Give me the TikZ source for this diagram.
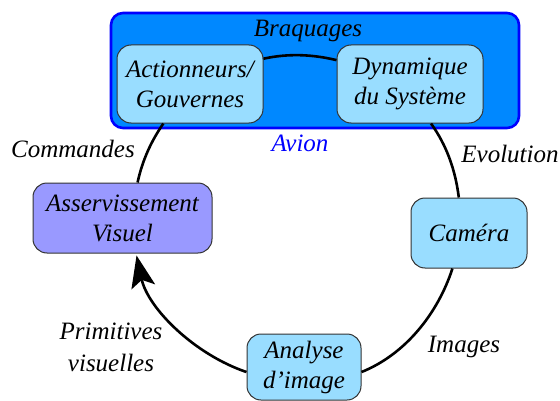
\documentclass[tikz,border=0pt]{standalone}
\usepackage{fontspec}
\setmainfont{Liberation Serif}
\usetikzlibrary{arrows.meta}
\definecolor{avionfill}{RGB}{0,136,255}
\definecolor{avionedge}{RGB}{0,0,255}
\definecolor{lightbox}{RGB}{153,221,255}
\definecolor{servobox}{RGB}{153,153,255}
\begin{document}
\begin{tikzpicture}[x=1pt,y=1pt,
  every node/.style={font=\fontsize{25}{30}\selectfont\itshape},
  blockbox/.style={draw=black!80, line width=1pt, rounded corners=14pt, align=center, inner sep=0pt},
  lightblock/.style={blockbox, fill=lightbox},
  loopline/.style={line width=2.6pt, looseness=0.88},
  lbl/.style={align=center, inner sep=0pt}]
\useasboundingbox (0,0) rectangle (560,400);
\node[draw=avionedge, fill=avionfill, line width=2.6pt, rounded corners=12pt,
      minimum width=408pt, minimum height=115pt, inner sep=0pt] (avion) at (315,329.5) {};
\node[lbl, anchor=base] (braq) at (308,363) {Braquages};
\node[lightblock, minimum width=146pt, minimum height=78pt] (act) at (190,316) {Actionneurs/\\Gouvernes};
\node[lightblock, minimum width=146pt, minimum height=78pt] (dyn) at (410,316) {Dynamique\\du Système};
\node[lbl, anchor=base, text=avionedge] (avlbl) at (300,249) {Avion};
\node[blockbox, fill=servobox, minimum width=179pt, minimum height=70pt] (serv) at (122.5,182) {Asservissement\\Visuel};
\node[lightblock, minimum width=116pt, minimum height=70pt] (cam) at (469,167) {Caméra};
\node[lightblock, minimum width=114pt, minimum height=66pt] (ana) at (304,33) {Analyse\\d\char39 image};
\node[lbl, anchor=base] (cmd) at (73,243) {Commandes};
\node[lbl, anchor=base] (evo) at (510,238) {Evolution};
\node[lbl, font=\fontsize{25}{32}\selectfont\itshape] (prim) at (111,52.5) {Primitives\\visuelles};
\node[lbl, anchor=base] (img) at (464,48) {Images};
\draw[loopline] (act.19) to[out=12.3, in=166.5] (dyn.162);
\draw[loopline] (dyn.-62) to[out=-54.3, in=97.1] (cam.106);
\draw[loopline] (cam.245) to[out=252, in=21.9] (ana.-5);
\draw[loopline, shorten >=2pt, -{Stealth[length=32pt,width=24pt,inset=7pt]}] (ana.185) to[out=161.3, in=282.1] (serv.-69);
\draw[loopline] (serv.67) to[out=77.8, in=235.4] (act.236);
\end{tikzpicture}
\end{document}
